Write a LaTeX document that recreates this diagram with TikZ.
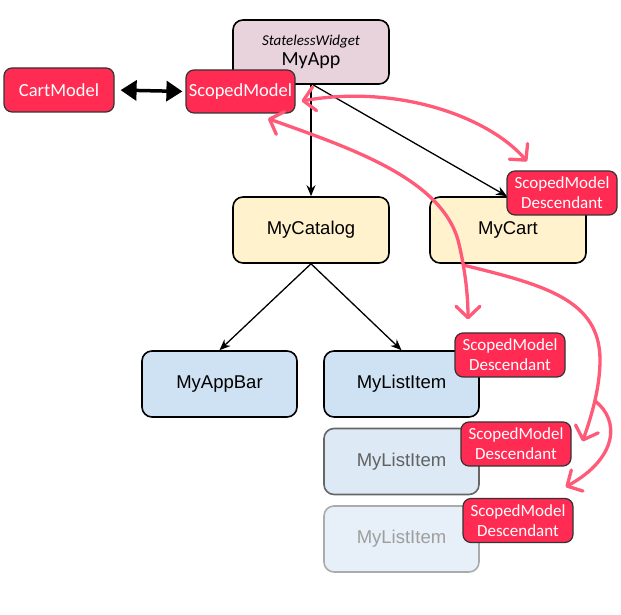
\documentclass[tikz,border=0pt]{standalone}
\usepackage{fontspec}
\setmainfont{Carlito}
\newfontfamily\robo{Liberation Sans}
\usetikzlibrary{arrows.meta}
\definecolor{appfill}{RGB}{232,210,220}
\definecolor{yelfill}{RGB}{255,242,204}
\definecolor{bluefill}{RGB}{207,226,243}
\definecolor{bluefillb}{RGB}{221,233,245}
\definecolor{bluefillc}{RGB}{231,239,248}
\definecolor{redbox}{RGB}{255,43,82}
\definecolor{pinkarrow}{RGB}{255,90,120}
\tikzset{
  bigbox/.style={draw=black, line width=1.6pt, rounded corners=10pt, minimum width=155pt, minimum height=66pt, inner sep=0pt},
  redtag/.style={draw=black!80, line width=1.2pt, fill=redbox, rounded corners=8pt, minimum width=110pt, minimum height=44pt, inner sep=0pt, text=white, align=center, font=\fontsize{17}{20}\selectfont},
  robotxt/.style={font=\robo\fontsize{18.5}{21}\selectfont},
  blackarrow/.style={draw=black, line width=1.3pt, -{Stealth[length=11pt,width=9pt]}},
  pinkline/.style={draw=pinkarrow, line width=3.3pt, line cap=round},
  barb/.tip={Straight Barb[length=11.5pt,width=24pt,line cap=round,line join=round]}
}
\begin{document}
\begin{tikzpicture}[x=1pt,y=1pt]
\useasboundingbox (0,0) rectangle (621,615);
% main widget
\node[bigbox, fill=appfill, minimum width=156pt, minimum height=64pt, align=center] (myapp) at (311,563)
  {\fontsize{15}{17}\selectfont\itshape StatelessWidget\\[3pt]\fontsize{20}{22}\selectfont MyApp};
\node[redtag, font=\fontsize{18.5}{20}\selectfont] (cart) at (59,525) {CartModel};
\node[redtag, font=\fontsize{18.5}{20}\selectfont, minimum width=109pt, minimum height=43pt] (sm) at (240.5,523.5) {ScopedModel};
% second row
\node[bigbox, fill=yelfill, robotxt, minimum width=156pt] (catalog) at (311,385) {MyCatalog};
\node[bigbox, fill=yelfill, robotxt, minimum width=156pt] (mycart) at (508,385) {MyCart};
% third row
\node[bigbox, fill=bluefill, robotxt] (appbar) at (219.5,231) {MyAppBar};
\node[bigbox, fill=bluefill, robotxt] (li1) at (401.5,231) {MyListItem};
\node[bigbox, fill=bluefillb, draw=black!60, text=black!62, robotxt] (li2) at (401.5,153.5) {MyListItem};
\node[bigbox, fill=bluefillc, draw=black!33, text=black!38, robotxt] (li3) at (401.5,76) {MyListItem};
% black connectors
\draw[blackarrow] (myapp.south) -- (catalog.north);
\draw[blackarrow] ([xshift=2pt]myapp.south) -- (mycart.north -| 507,0);
\draw[blackarrow] (catalog.south) -- (appbar.north);
\draw[blackarrow] (catalog.south) -- (li1.north);
\draw[line width=3.5pt, {Triangle[length=16pt,width=20pt]}-{Triangle[length=16pt,width=20pt]}, shorten <=6pt, shorten >=3pt] (cart.east) -- (sm.west);
% descendant tags
\node[redtag] (smd1) at (562,422) {ScopedModel\\Descendant};
\node[redtag] (smd2) at (510,260) {ScopedModel\\Descendant};
\node[redtag] (smd3) at (516,171) {ScopedModel\\Descendant};
\node[redtag] (smd4) at (518,94.5) {ScopedModel\\Descendant};
% pink connectors
\coordinate (a1) at ([shift={(6pt,-9.5pt)}]sm.east);
\coordinate (a2) at ([shift={(-35pt,9pt)}]smd1.north);
\draw[pinkline, {barb}-{barb}] (a1) .. controls (400,531) and (490,497) .. (a2);
\coordinate (b1) at ([shift={(27.5pt,-5pt)}]sm.south);
\coordinate (b2) at ([shift={(-42pt,13pt)}]smd2.north);
\draw[pinkline, {barb}-{barb}] (b1) .. controls (350,467) and (440,437) .. (458,375) .. controls (465,347) and (468,320) .. (b2);
\coordinate (c1) at (463,350);
\coordinate (c2) at ([shift={(11pt,-20pt)}]smd3.north east);
\draw[pinkline, -{barb}] (c1) .. controls (545,330) and (600,315) .. (600,255) .. controls (600,225) and (590,195) .. (c2);
\coordinate (d1) at (595,214);
\coordinate (d2) at ([shift={(-8pt,11pt)}]smd4.north east);
\draw[pinkline, -{barb}] (d1) .. controls (620,195) and (618,157) .. (d2);
\end{tikzpicture}
\end{document}
